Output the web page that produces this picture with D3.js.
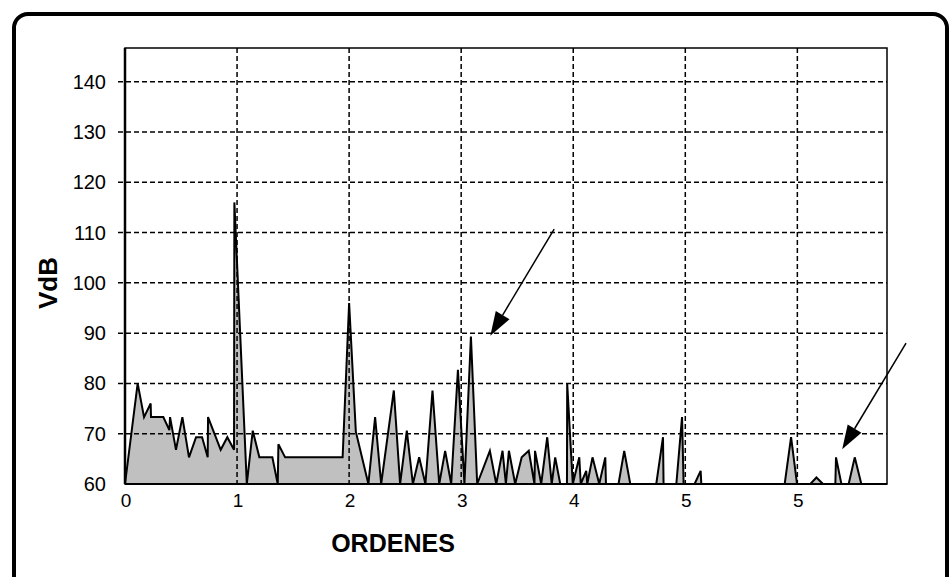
<!DOCTYPE html>
<html>
<head>
<meta charset="utf-8">
<script src="https://cdn.jsdelivr.net/npm/d3@7"></script>
<style>
	body { margin: 0; background: #fff; }
	svg { display: block; font-family: Arial, 'Liberation Sans', sans-serif; }
</style>
</head>
<body>
<svg id="svg" width="951" height="577"></svg>
<script>
// spectrum points (order, dB)
const orders = [0.00, 0.113, 0.17, 0.229, 0.232, 0.342, 0.396, 0.402, 0.455, 0.512,
	0.571, 0.634, 0.688, 0.738, 0.741, 0.854, 0.913, 0.973, 0.976, 1.087,
	1.14, 1.199, 1.315, 1.363, 1.369, 1.429, 1.942, 2.0, 2.06, 2.172,
	2.232, 2.286, 2.399, 2.455, 2.515, 2.569, 2.625, 2.681, 2.744, 2.804,
	2.857, 2.911, 2.971, 3.029, 3.087, 3.143, 3.256, 3.313, 3.369, 3.399,
	3.426, 3.482, 3.54, 3.603, 3.654, 3.659, 3.714, 3.768, 3.808, 3.839,
	3.884, 3.944, 3.946, 3.996, 4.054, 4.067, 4.116, 4.125, 4.172, 4.232,
	4.286, 4.292, 4.404, 4.455, 4.509, 4.741, 4.801, 4.806, 4.92, 4.971,
	4.985, 5.083, 5.137, 5.143, 5.887, 5.944, 5.997, 6.116, 6.17, 6.229,
	6.339, 6.345, 6.393, 6.458, 6.512, 6.571, 6.801];
const vdb = [60, 80, 73.3, 76, 73.3, 73.3, 70.7, 73.3, 66.8, 73.3,
	65.3, 69.3, 69.3, 65.3, 73.3, 66.8, 69.3, 66.8, 116, 60,
	70.6, 65.3, 65.3, 60, 67.9, 65.3, 65.3, 96, 70.4, 60,
	73.3, 60, 78.6, 60, 70.6, 60, 65.3, 60, 78.6, 60,
	66.6, 60, 82.7, 60, 89.3, 60, 66.6, 60, 66.6, 60,
	66.6, 60, 65.3, 66.6, 60, 66.6, 60, 69.3, 60, 65.3,
	60, 60, 80, 60, 65.3, 60, 62.6, 60, 65.3, 60,
	65.3, 60, 60, 66.6, 60, 60, 69.3, 60, 60, 73.3,
	60, 60, 62.6, 60, 60, 69.3, 60, 60, 61.3, 60,
	60, 65.3, 60, 60, 65.3, 60, 60];

const yTicks = [60, 70, 80, 90, 100, 110, 120, 130, 140];
const xTicks = [0, 1, 2, 3, 4, 5, 6];
const xTickLabels = ['0', '1', '2', '3', '4', '5', '5'];

// annotation arrows, from -> to, in (order, dB)
const arrowFrom = [[3.83, 110.7], [6.97, 88.0]];
const arrowTo = [[3.26, 89.5], [6.40, 66.9]];

const margin = { top: 48, right: 64, bottom: 93, left: 125 };
const W = 951, H = 577;

const data = orders.map((o, i) => ({ o: o, v: vdb[i] }));

const x = d3.scaleLinear().domain([0, 6.8]).range([margin.left, W - margin.right]);
const y = d3.scaleLinear().domain([60, 146.7]).range([H - margin.bottom, margin.top]);

const svg = d3.select('#svg');

// outer rounded frame
svg.append('rect')
	.attr('x', 14).attr('y', 14)
	.attr('width', 933).attr('height', 640)
	.attr('rx', 14)
	.attr('fill', 'none')
	.attr('stroke', '#000')
	.attr('stroke-width', 4);

// area
svg.append('path')
	.datum(data)
	.attr('fill', '#c0c0c0')
	.attr('d', d3.area().x((d) => x(d.o)).y0(y(60)).y1((d) => y(d.v)));

// grid
const grid = svg.append('g')
	.attr('stroke', '#000')
	.attr('stroke-width', 1.5)
	.attr('stroke-dasharray', '5,3');

grid.selectAll('line.h')
	.data(yTicks.filter((t) => t > 60))
	.enter()
	.append('line')
	.attr('class', 'h')
	.attr('x1', x(0) - 7).attr('x2', x(6.8))
	.attr('y1', (d) => y(d)).attr('y2', (d) => y(d));

grid.selectAll('line.v')
	.data(xTicks.filter((t) => t > 0))
	.enter()
	.append('line')
	.attr('class', 'v')
	.attr('x1', (d) => x(d)).attr('x2', (d) => x(d))
	.attr('y1', y(146.7)).attr('y2', y(60));

// outline
svg.append('path')
	.datum(data)
	.attr('fill', 'none')
	.attr('stroke', '#000')
	.attr('stroke-width', 2)
	.attr('stroke-linejoin', 'miter')
	.attr('d', d3.line().x((d) => x(d.o)).y((d) => y(d.v)));

// plot border
svg.append('rect')
	.attr('x', x(0)).attr('y', y(146.7))
	.attr('width', x(6.8) - x(0)).attr('height', y(60) - y(146.7))
	.attr('fill', 'none')
	.attr('stroke', '#000')
	.attr('stroke-width', 1.5);
svg.append('line')
	.attr('x1', x(0)).attr('x2', x(0))
	.attr('y1', y(146.7)).attr('y2', y(60))
	.attr('stroke', '#000').attr('stroke-width', 2.5);
svg.append('line')
	.attr('x1', x(0)).attr('x2', x(6.8))
	.attr('y1', y(60)).attr('y2', y(60))
	.attr('stroke', '#000').attr('stroke-width', 2);

// tick labels
svg.append('g')
	.selectAll('text')
	.data(yTicks)
	.enter()
	.append('text')
	.attr('x', 106)
	.attr('y', (d) => y(d))
	.attr('dy', '0.35em')
	.attr('text-anchor', 'end')
	.attr('font-size', 20)
	.text((d) => d);

svg.append('g')
	.selectAll('text')
	.data(xTicks)
	.enter()
	.append('text')
	.attr('x', (d) => x(d) + 1)
	.attr('y', 507)
	.attr('text-anchor', 'middle')
	.attr('font-size', 19)
	.text((d, i) => xTickLabels[i]);

// axis titles
svg.append('text')
	.attr('x', 393).attr('y', 552)
	.attr('text-anchor', 'middle')
	.attr('font-size', 25)
	.attr('font-weight', 'bold')
	.text('ORDENES');

svg.append('text')
	.attr('transform', 'translate(57, 283) rotate(-90)')
	.attr('text-anchor', 'middle')
	.attr('font-size', 26)
	.attr('font-weight', 'bold')
	.text('VdB');

// arrows
arrowFrom.forEach((f, i) => {
	const t = arrowTo[i];
	const x1 = x(f[0]), y1 = y(f[1]), x2 = x(t[0]), y2 = y(t[1]);
	const len = Math.hypot(x2 - x1, y2 - y1);
	const ux = (x2 - x1) / len, uy = (y2 - y1) / len;
	const hl = 24, hw = 8;
	const bx = x2 - ux * hl, by = y2 - uy * hl;
	svg.append('line')
		.attr('x1', x1).attr('y1', y1)
		.attr('x2', bx).attr('y2', by)
		.attr('stroke', '#000').attr('stroke-width', 1.5);
	svg.append('path')
		.attr('d', `M${x2},${y2}L${bx - uy * hw},${by + ux * hw}L${bx + uy * hw},${by - ux * hw}Z`)
		.attr('fill', '#000');
});
</script>
</body>
</html>
